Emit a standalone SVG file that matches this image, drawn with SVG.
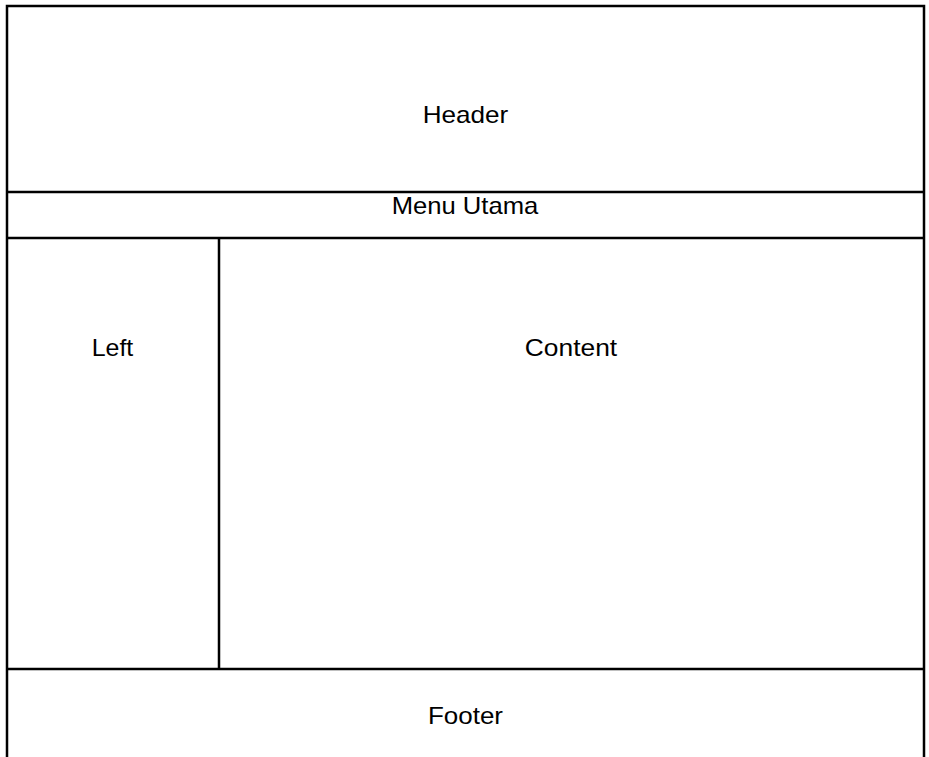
<svg xmlns="http://www.w3.org/2000/svg" width="929" height="757" viewBox="0 0 929 757">
<style>
.ln{stroke:#000;stroke-width:2.5;fill:none}
text{font-family:"Liberation Sans",Arial,sans-serif;font-size:24px;fill:#000;text-anchor:middle}
</style>
<rect width="929" height="757" fill="#fff"/>
<g id="connectors">
<path class="ln" d="M7,757 V6 H924 V757"/>
<path class="ln" d="M7,192 H924 M7,238 H924 M219,238 V669 M7,669 H924"/>
</g>
<g id="header"><text x="465.5" y="123" textLength="85.6" lengthAdjust="spacingAndGlyphs">Header</text></g>
<g id="menu"><text x="465" y="214" textLength="146.7" lengthAdjust="spacingAndGlyphs">Menu Utama</text></g>
<g id="left"><text x="112.5" y="356" textLength="41.6" lengthAdjust="spacingAndGlyphs">Left</text></g>
<g id="content"><text x="571" y="356" textLength="92.3" lengthAdjust="spacingAndGlyphs">Content</text></g>
<g id="footer"><text x="465.5" y="724" textLength="75" lengthAdjust="spacingAndGlyphs">Footer</text></g>
</svg>
